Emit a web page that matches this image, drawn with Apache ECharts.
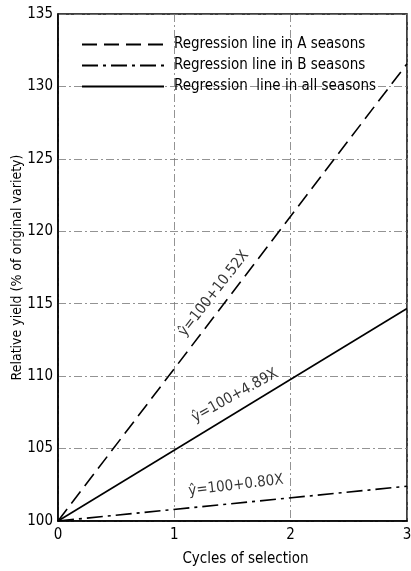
<!DOCTYPE html>
<html>
<head>
<meta charset="utf-8">
<script src="https://cdn.jsdelivr.net/npm/echarts@6/dist/echarts.min.js"></script>
<style>
html,body{margin:0;padding:0;background:#fff;}
#c{width:411px;height:571px;}
</style>
</head>
<body>
<div id="c"></div>
<script>
// Data
const cycles = [0, 3];
const seriesNames = ['Regression line in A seasons', 'Regression line in B seasons', 'Regression  line in all seasons'];
const yieldA = [100, 131.56];
const yieldB = [100, 102.40];
const yieldAll = [100, 114.67];
const yTicks = [100, 105, 110, 115, 120, 125, 130, 135];
const xTicks = [0, 1, 2, 3];
const eqA = 'ŷ=100+10.52X';
const eqB = 'ŷ=100+0.80X';
const eqAll = 'ŷ=100+4.89X';

const FONT = "'DejaVu Sans Condensed', 'Liberation Sans Narrow', sans-serif";

function pairs(xs, ys) { return xs.map((x, i) => [x, ys[i]]); }

function eqSeries(text, coord, rot) {
  return {
    type: 'scatter', silent: true, symbolSize: 1,
    itemStyle: { color: 'rgba(0,0,0,0)' },
    data: [coord],
    label: {
      show: true, position: 'inside', rotate: rot,
      formatter: text, color: '#000', fontFamily: FONT, fontSize: 15,
      textBorderWidth: 0
    },
    z: 5
  };
}

const chart = echarts.init(document.getElementById('c'), null, { renderer: 'canvas' });
const option = {
  animation: false,
  backgroundColor: '#fff',
  textStyle: { fontFamily: FONT, color: '#000' },
  grid: { left: 58, right: 4, top: 14, bottom: 50, containLabel: false, outerBoundsMode: 'none', show: true, borderColor: '#000', borderWidth: 1.5, backgroundColor: 'transparent' },
  legend: {
    orient: 'vertical', left: 76, top: 32,
    itemWidth: 82, itemHeight: 14, itemGap: 6,
    data: seriesNames,
    itemStyle: { color: 'rgba(0,0,0,0)', borderWidth: 0, opacity: 0 },
    textStyle: { fontFamily: FONT, fontSize: 15, color: '#000', padding: [0, 0, 0, 5] },
    selectedMode: false
  },
  xAxis: {
    type: 'value', min: 0, max: 3, interval: 1,
    name: 'Cycles of selection', nameLocation: 'middle', nameGap: 31,
    nameMoveOverlap: false,
    nameTextStyle: { fontFamily: FONT, fontSize: 15, color: '#000', padding: [0, 0, 0, 26] },
    axisLine: { show: true, lineStyle: { color: '#000', width: 1.5 } },
    axisTick: { show: false },
    axisLabel: { fontFamily: FONT, fontSize: 15, color: '#000', margin: 7, formatter: v => xTicks.includes(v) ? String(v) : '' },
    splitLine: { show: true, lineStyle: { color: '#777', width: 0.8, type: [8, 3, 2, 3] } }
  },
  yAxis: {
    type: 'value', min: 100, max: 135, interval: 5,
    name: 'Relative yield (% of original variety)', nameLocation: 'middle', nameGap: 34,
    nameMoveOverlap: false,
    nameTextStyle: { fontFamily: FONT, fontSize: 14, color: '#000' },
    axisLine: { show: true, lineStyle: { color: '#000', width: 1.5 } },
    axisTick: { show: false },
    axisLabel: { fontFamily: FONT, fontSize: 15, color: '#000', margin: 5, formatter: v => yTicks.includes(v) ? String(v) : '' },
    splitLine: { show: true, lineStyle: { color: '#777', width: 0.8, type: [8, 3, 2, 3] } }
  },
  series: [
    {
      name: seriesNames[0], type: 'line', data: pairs(cycles, yieldA), symbol: 'none',
      lineStyle: { color: '#000', width: 1.6, type: [15, 7] }, itemStyle: { color: '#000' }
    },
    {
      name: seriesNames[1], type: 'line', data: pairs(cycles, yieldB), symbol: 'none',
      lineStyle: { color: '#000', width: 1.6, type: [16, 5, 3, 5] }, itemStyle: { color: '#000' }
    },
    {
      name: seriesNames[2], type: 'line', data: pairs(cycles, yieldAll), symbol: 'none',
      lineStyle: { color: '#000', width: 1.6, type: 'solid' }, itemStyle: { color: '#000' }
    },
    eqSeries(eqA, [1.34, 115.7], 52),
    eqSeries(eqB, [1.53, 102.45], 7),
    eqSeries(eqAll, [1.52, 108.65], 29)
  ]
};
chart.setOption(option);
</script>
</body>
</html>
